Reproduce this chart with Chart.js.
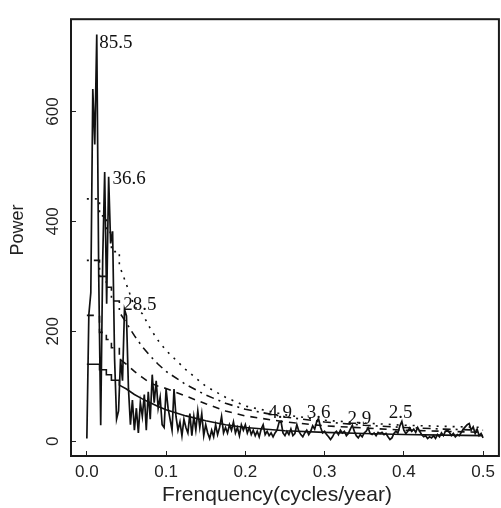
<!DOCTYPE html>
<html><head><meta charset="utf-8">
<script src="https://cdn.jsdelivr.net/npm/chart.js@4/dist/chart.umd.min.js"></script>
<style>html,body{margin:0;padding:0;background:#fff;overflow:hidden;width:501px;height:508px}canvas{display:block}</style>
</head><body>
<canvas id="c" width="506" height="508" style="width:506px;height:508px"></canvas>
<script>
// Frequency grid (cycles/year) of the periodogram
const freq = [
0,0.0025,0.005,0.0075,0.01,0.0125,0.015,0.0175,0.02,0.0225,
0.025,0.0275,0.03,0.0325,0.035,0.0375,0.04,0.0425,0.045,0.0475,
0.05,0.0525,0.055,0.0575,0.06,0.0625,0.065,0.0675,0.07,0.0725,
0.075,0.0775,0.08,0.0825,0.085,0.0875,0.09,0.0925,0.095,0.0975,
0.1,0.1025,0.105,0.1075,0.11,0.1125,0.115,0.1175,0.12,0.1225,
0.125,0.1275,0.13,0.1325,0.135,0.1375,0.14,0.1425,0.145,0.1475,
0.15,0.1525,0.155,0.1575,0.16,0.1625,0.165,0.1675,0.17,0.1725,
0.175,0.1775,0.18,0.1825,0.185,0.1875,0.19,0.1925,0.195,0.1975,
0.2,0.2025,0.205,0.2075,0.21,0.2125,0.215,0.2175,0.22,0.2225,
0.225,0.2275,0.23,0.2325,0.235,0.2375,0.24,0.2425,0.245,0.2475,
0.25,0.2525,0.255,0.2575,0.26,0.2625,0.265,0.2675,0.27,0.2725,
0.275,0.2775,0.28,0.2825,0.285,0.2875,0.29,0.2925,0.295,0.2975,
0.3,0.3025,0.305,0.3075,0.31,0.3125,0.315,0.3175,0.32,0.3225,
0.325,0.3275,0.33,0.3325,0.335,0.3375,0.34,0.3425,0.345,0.3475,
0.35,0.3525,0.355,0.3575,0.36,0.3625,0.365,0.3675,0.37,0.3725,
0.375,0.3775,0.38,0.3825,0.385,0.3875,0.39,0.3925,0.395,0.3975,
0.4,0.4025,0.405,0.4075,0.41,0.4125,0.415,0.4175,0.42,0.4225,
0.425,0.4275,0.43,0.4325,0.435,0.4375,0.44,0.4425,0.445,0.4475,
0.45,0.4525,0.455,0.4575,0.46,0.4625,0.465,0.4675,0.47,0.4725,
0.475,0.4775,0.48,0.4825,0.485,0.4875,0.49,0.4925,0.495,0.4975,
0.5];

// Spectral power
const power = [
5,230,270,641,540,740,300,29,330,490,
250,481,360,382,150,40,55,150,110,240,
228,96,30,75,20,60,15,70,45,85,
20,90,40,121,70,110,60,80,30,25,
95,60,40,20,95,45,20,35,10,40,
25,15,50,10,45,20,55,25,50,10,
30,15,5,20,8,30,12,25,45,15,
25,15,30,20,35,15,25,10,30,20,
30,15,25,12,20,10,18,8,22,30,
12,18,10,15,8,15,20,34,36,15,
10,18,12,22,10,14,30,18,12,8,
15,20,12,18,28,22,35,40,25,15,
18,12,8,3,8,15,18,12,20,15,
18,10,14,22,29,18,10,6,12,8,
15,18,24,14,12,15,10,16,14,16,
12,14,8,3,6,14,18,15,28,36,
20,14,18,24,18,22,16,25,18,12,
8,10,5,8,6,10,5,12,8,15,
10,18,20,16,10,14,8,12,10,16,
22,26,30,32,20,26,14,22,10,14,
6];

// Red-noise background and confidence levels (stepped at low frequency)
const bgFreq  = [0,0.016,0.016,0.0246,0.0246,0.031,0.031,0.041,0.041,0.05,0.06,0.07,0.08,0.09,0.1,0.125,0.15,0.175,0.2,0.25,0.3,0.35,0.4,0.45,0.5];
const bgPower = [140,140,130,130,121,121,111,111,102,95,85,77,70,63,57,46,37,30,25,19,16,14,12,11,10];
const level90 = [229,229,198,198,185,185,170,170,150,140,127,116,106,100,96,82,68,55,46,35,28,24,20,18,16];
const level95 = [329,329,300,300,280,280,255,255,235,215,192,172,155,140,127,103,84,69,58,44,35,29,25,22,20];
const level99 = [441,441,410,410,380,380,345,345,320,285,245,232,205,183,165,130,100,80,64,48,38,33,29,27,25];

const xTicks = [0,0.1,0.2,0.3,0.4,0.5];
const yTicks = [0,200,400,600];
const xTitle = 'Frenquency(cycles/year)';
const yTitle = 'Power';

// Peak period annotations (years): text, frequency and power of text anchor
const peakLabels     = ['85.5','36.6','28.5','4.9','3.6','2.9','2.5'];
const peakLabelFreq  = [0.0155,0.0325,0.046,0.229,0.2775,0.329,0.381];
const peakLabelPower = [716,468,239,43,43,32,43];

const toXY = (xs, ys) => xs.map((x, i) => ({x: x, y: ys[i]}));

const boxPlugin = {
  id: 'box',
  afterDraw(chart) {
    const a = chart.chartArea, ctx = chart.ctx;
    ctx.save();
    ctx.strokeStyle = '#1a1a1a';
    ctx.lineWidth = 2;
    ctx.strokeRect(a.left, a.top, a.right - a.left, a.bottom - a.top);
    // axis titles
    ctx.fillStyle = '#222';
    ctx.textAlign = 'center';
    ctx.textBaseline = 'middle';
    ctx.font = '21px "Liberation Sans", Arial, sans-serif';
    ctx.fillText(xTitle, 277, 495);
    ctx.translate(18, 230);
    ctx.rotate(-Math.PI / 2);
    ctx.font = '18px "Liberation Sans", Arial, sans-serif';
    ctx.fillText(yTitle, 0, 0);
    ctx.restore();
  }
};
const labelPlugin = {
  id: 'peakLabels',
  afterDatasetsDraw(chart) {
    const ctx = chart.ctx, xs = chart.scales.x, ys = chart.scales.y;
    ctx.save();
    ctx.fillStyle = '#111';
    ctx.font = '19px "Liberation Serif", "Times New Roman", serif';
    ctx.textAlign = 'left';
    ctx.textBaseline = 'alphabetic';
    peakLabels.forEach((t, i) => {
      ctx.fillText(t, xs.getPixelForValue(peakLabelFreq[i]), ys.getPixelForValue(peakLabelPower[i]));
    });
    ctx.restore();
  }
};

Chart.defaults.font.family = '"Liberation Sans", Arial, sans-serif';

new Chart(document.getElementById('c'), {
  type: 'line',
  data: {
    datasets: [
      {data: toXY(freq, power), borderColor: '#111', borderWidth: 1.7, pointRadius: 0, tension: 0},
      {data: toXY(bgFreq, bgPower), borderColor: '#111', borderWidth: 1.6, pointRadius: 0, tension: 0},
      {data: toXY(bgFreq, level90), borderColor: '#111', borderWidth: 1.6, pointRadius: 0, tension: 0, borderDash: [7, 6]},
      {data: toXY(bgFreq, level95), borderColor: '#111', borderWidth: 1.6, pointRadius: 0, tension: 0, borderDash: [2, 5, 8, 5]},
      {data: toXY(bgFreq, level99), borderColor: '#111', borderWidth: 1.6, pointRadius: 0, tension: 0, borderDash: [2, 6]}
    ]
  },
  options: {
    responsive: false,
    animation: false,
    devicePixelRatio: 1,
    layout: {padding: {left: 0, top: 11, right: 3, bottom: 0}},
    plugins: {legend: {display: false}, tooltip: {enabled: false}},
    scales: {
      x: {
        type: 'linear', min: -0.02, max: 0.52,
        afterBuildTicks: s => { s.ticks = xTicks.map(v => ({value: v})); },
        ticks: {callback: v => Number(v).toFixed(1), font: {size: 17}, color: '#222', padding: 11, maxRotation: 0, minRotation: 0, autoSkip: false},
        grid: {display: true, drawOnChartArea: false, drawTicks: true, tickLength: -5, color: '#222', lineWidth: 1},
        border: {display: false},
        afterFit: s => { s.height = 52; }
      },
      y: {
        type: 'linear', min: -27, max: 768,
        afterBuildTicks: s => { s.ticks = yTicks.map(v => ({value: v})); },
        ticks: {minRotation: 90, maxRotation: 90, crossAlign: 'center', font: {size: 17}, color: '#222', padding: 9, autoSkip: false},
        grid: {display: true, drawOnChartArea: false, drawTicks: true, tickLength: -5, color: '#222', lineWidth: 1},
        border: {display: false},
        afterFit: s => { s.width = 71; }
      }
    }
  },
  plugins: [boxPlugin, labelPlugin]
});
</script>
</body></html>
